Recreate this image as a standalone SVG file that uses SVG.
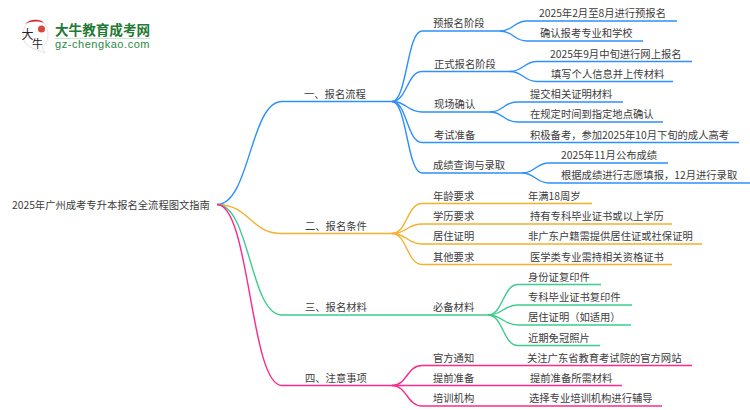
<svg xmlns="http://www.w3.org/2000/svg" width="750" height="410" viewBox="0 0 750 410">
<style>
text{font-family:"Noto Sans CJK SC","Liberation Sans",sans-serif;font-size:10.3px;fill:#3c3c3c}
.c{fill:none;stroke-width:1.4}
.b{stroke:#2e90fa}.o{stroke:#f5b02e}.g{stroke:#3ecb8d}.p{stroke:#fb2a8c}
</style>
<rect width="750" height="410" fill="#fff"/>
<g id="logo">
<path d="M36 20C28 20 23 27 23 35C23 43 28 47 35 49L45 53L42 47C46 44 48 40 48 34C48 26 44 20 36 20Z" fill="#fff" stroke="#e2e2e2"/>
<path d="M25 24C29 19 40 18 44 23C38 21 31 21 25 24Z" fill="#d7282c"/>
<circle cx="41.500" cy="29" r="3.500" fill="#d9453f"/>
<text x="21.500" y="39" style="font-size:12px;fill:#222">大</text>
<text x="32" y="48" style="font-size:11px;fill:#222">牛</text>
<text x="55" y="34.500" style="font-size:13.600px;font-weight:700;fill:#1f7a35">大牛教育成考网</text>
<rect x="55" y="38" width="95" height="1" fill="#cfe3d4"/>
<text x="55" y="48" style="font-size:11px;font-family:'Liberation Sans',sans-serif;fill:#2c8a45;letter-spacing:.55px">gz-chengkao.com</text>
</g>
<g id="connectors">
<path class="c b" d="M217 204.500C250 204.500 250 101.500 282 101.500H392"/>
<path class="c b" d="M392 101.500C407 101.500 407 31 422 31H500"/>
<path class="c b" d="M392 101.500C407 101.500 407 71.500 422 71.500H510"/>
<path class="c b" d="M392 101.500C407 101.500 407 112 422 112H490"/>
<path class="c b" d="M392 101.500C407 101.500 407 142.500 422 142.500H739"/>
<path class="c b" d="M392 101.500C407 101.500 407 173 422 173H522"/>
<path class="c b" d="M500 31C513.500 31 513.500 21 527 21H677"/>
<path class="c b" d="M500 31C513.500 31 513.500 41 527 41H643"/>
<path class="c b" d="M510 71.500C523.500 71.500 523.500 61.500 537 61.500H692"/>
<path class="c b" d="M510 71.500C523.500 71.500 523.500 81.500 537 81.500H673"/>
<path class="c b" d="M490 112C503.500 112 503.500 102 517 102H623"/>
<path class="c b" d="M490 112C503.500 112 503.500 122 517 122H663"/>
<path class="c b" d="M522 173C535.500 173 535.500 163 549 163H668"/>
<path class="c b" d="M522 173C535.500 173 535.500 183 549 183H750"/>
<path class="c o" d="M217 204.500C250 204.500 250 233.500 282 233.500H392"/>
<path class="c o" d="M392 233.500C407 233.500 407 203.500 422 203.500H592"/>
<path class="c o" d="M392 233.500C407 233.500 407 224 422 224H672"/>
<path class="c o" d="M392 233.500C407 233.500 407 244 422 244H702"/>
<path class="c o" d="M392 233.500C407 233.500 407 264.500 422 264.500H672"/>
<path class="c g" d="M217 204.500C250 204.500 250 315 282 315H488"/>
<path class="c g" d="M488 315C503 315 503 284.500 518 284.500H601"/>
<path class="c g" d="M488 315C503 315 503 305 518 305H632"/>
<path class="c g" d="M488 315C503 315 503 325 518 325H631"/>
<path class="c g" d="M488 315C503 315 503 345.500 518 345.500H600"/>
<path class="c p" d="M217 204.500C250 204.500 250 385.500 282 385.500H392"/>
<path class="c p" d="M392 385.500C407 385.500 407 365.500 422 365.500H692"/>
<path class="c p" d="M392 385.500H622"/>
<path class="c p" d="M392 385.500C407 385.500 407 406 422 406H662"/>
</g>
<g id="root"><text x="12" y="208.500">2025年广州成考专升本报名全流程图文指南</text></g>
<g id="n1"><text x="304" y="98">一、报名流程</text></g>
<g id="n1-1"><text x="433" y="27">预报名阶段</text></g>
<g id="n1-1-1"><text x="539" y="17">2025年2月至8月进行预报名</text></g>
<g id="n1-1-2"><text x="540" y="37">确认报考专业和学校</text></g>
<g id="n1-2"><text x="434" y="67.500">正式报名阶段</text></g>
<g id="n1-2-1"><text x="550" y="57.500">2025年9月中旬进行网上报名</text></g>
<g id="n1-2-2"><text x="551" y="78">填写个人信息并上传材料</text></g>
<g id="n1-3"><text x="434" y="108">现场确认</text></g>
<g id="n1-3-1"><text x="530" y="98">提交相关证明材料</text></g>
<g id="n1-3-2"><text x="530" y="118">在规定时间到指定地点确认</text></g>
<g id="n1-4"><text x="434" y="138.500">考试准备</text></g>
<g id="n1-4-1"><text x="530" y="138.500">积极备考，参加2025年10月下旬的成人高考</text></g>
<g id="n1-5"><text x="433" y="169">成绩查询与录取</text></g>
<g id="n1-5-1"><text x="561" y="159">2025年11月公布成绩</text></g>
<g id="n1-5-2"><text x="561" y="179">根据成绩进行志愿填报，12月进行录取</text></g>
<g id="n2"><text x="305" y="230">二、报名条件</text></g>
<g id="n2-1"><text x="433" y="199.500">年龄要求</text></g>
<g id="n2-1-1"><text x="528" y="199.500">年满18周岁</text></g>
<g id="n2-2"><text x="433" y="220">学历要求</text></g>
<g id="n2-2-1"><text x="530" y="220">持有专科毕业证书或以上学历</text></g>
<g id="n2-3"><text x="433" y="240">居住证明</text></g>
<g id="n2-3-1"><text x="528" y="240">非广东户籍需提供居住证或社保证明</text></g>
<g id="n2-4"><text x="433" y="260.500">其他要求</text></g>
<g id="n2-4-1"><text x="530" y="260.500">医学类专业需持相关资格证书</text></g>
<g id="n3"><text x="305" y="311">三、报名材料</text></g>
<g id="n3-1"><text x="433" y="311">必备材料</text></g>
<g id="n3-1-1"><text x="528" y="280.500">身份证复印件</text></g>
<g id="n3-1-2"><text x="528" y="301">专科毕业证书复印件</text></g>
<g id="n3-1-3"><text x="528" y="321">居住证明（如适用）</text></g>
<g id="n3-1-4"><text x="528" y="341.500">近期免冠照片</text></g>
<g id="n4"><text x="305" y="382">四、注意事项</text></g>
<g id="n4-1"><text x="433" y="361.500">官方通知</text></g>
<g id="n4-1-1"><text x="527" y="361.500">关注广东省教育考试院的官方网站</text></g>
<g id="n4-2"><text x="433" y="382">提前准备</text></g>
<g id="n4-2-1"><text x="530" y="382">提前准备所需材料</text></g>
<g id="n4-3"><text x="433" y="402">培训机构</text></g>
<g id="n4-3-1"><text x="529" y="402">选择专业培训机构进行辅导</text></g>
</svg>
